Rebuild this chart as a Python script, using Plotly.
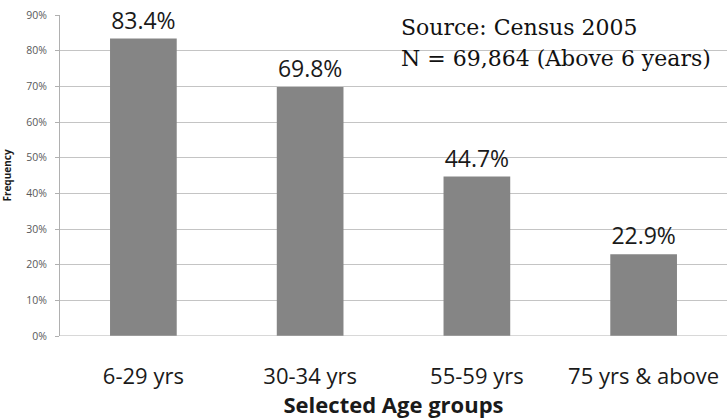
import plotly.graph_objects as go

categories = ["6-29 yrs", "30-34 yrs", "55-59 yrs", "75 yrs & above"]
values = [83.4, 69.8, 44.7, 22.9]
labels = ["83.4%", "69.8%", "44.7%", "22.9%"]

fig = go.Figure()
fig.add_trace(go.Bar(
    x=categories, y=values, width=0.4,
    marker=dict(color="#858585", line=dict(width=0)),
    text=labels, textposition="outside", cliponaxis=False,
    textfont=dict(family="Open Sans", size=23, color="#1a1a1a"),
    hoverinfo="skip",
))
fig.update_layout(
    width=727, height=419, margin=dict(l=60, r=0, t=15, b=83),
    paper_bgcolor="white", plot_bgcolor="white", showlegend=False,
    xaxis=dict(range=[-0.5, 3.5], showgrid=False, zeroline=False, showline=False,
               tickfont=dict(family="Open Sans", size=22, color="#1a1a1a"),
               ticks="outside", ticklen=21, tickcolor="rgba(0,0,0,0)",
               title=dict(text="<b>Selected Age groups</b>",
                          font=dict(family="Open Sans", size=22, color="#1a1a1a"), standoff=4)),
    yaxis=dict(range=[0, 90], dtick=10, ticksuffix="%", showgrid=True, gridcolor="#c4c4c4",
               showline=True, linecolor="#b0b0b0", zeroline=False,
               ticks="outside", ticklen=4, tickcolor="#b0b0b0", ticklabelstandoff=6,
               tickfont=dict(family="Open Sans", size=10.5, color="#595959"),
               title=dict(text="<b>Frequency</b>",
                          font=dict(family="Open Sans", size=10, color="#1a1a1a"), standoff=14)),
)
fig.add_shape(type="line", xref="paper", yref="y", x0=0, x1=1, y0=0, y1=0,
              line=dict(color="#b0b0b0", width=1))
fig.add_annotation(xref="paper", yref="paper", x=(399 - 60) / 667, y=1 - (27 - 15) / 321,
                   xanchor="left", yanchor="middle", showarrow=False, align="left",
                   text="Source: Census 2005", font=dict(family="DejaVu Serif", size=22, color="#111"))
fig.add_annotation(xref="paper", yref="paper", x=(399 - 60) / 667, y=1 - (58 - 15) / 321,
                   xanchor="left", yanchor="middle", showarrow=False, align="left",
                   text="N = 69,864 (Above 6 years)", font=dict(family="DejaVu Serif", size=22, color="#111"))
fig.write_html("out.html", config={"displayModeBar": False},
               post_script="document.body.style.margin='0';")
